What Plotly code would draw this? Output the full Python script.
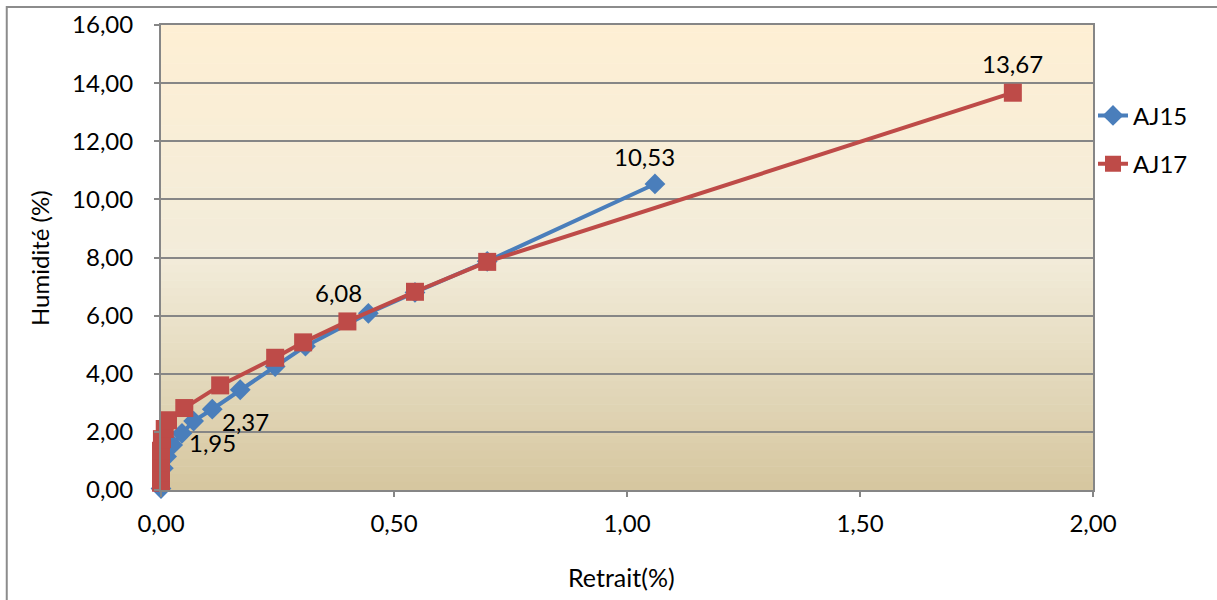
import plotly.graph_objects as go

# ---- data ----
aj15_x = [0.00, 0.005, 0.012, 0.025, 0.045, 0.07, 0.11, 0.17, 0.245, 0.31, 0.445, 0.545, 0.70, 1.06]
aj15_y = [0.05, 0.75, 1.15, 1.55, 1.95, 2.37, 2.78, 3.45, 4.25, 4.95, 6.08, 6.80, 7.87, 10.53]

aj17_x = [0.00, 0.00, 0.00, 0.00, 0.002, 0.008, 0.015, 0.05, 0.127, 0.245, 0.305, 0.40, 0.545, 0.70, 1.828]
aj17_y = [0.25, 0.60, 0.95, 1.35, 1.75, 2.10, 2.40, 2.82, 3.60, 4.55, 5.08, 5.80, 6.82, 7.85, 13.67]

x_ticks = [0, 0.5, 1.0, 1.5, 2.0]
y_ticks = [0, 2, 4, 6, 8, 10, 12, 14, 16]

# labelled points: (x, y, text, xshift, yshift)
labels = [
    (aj15_x[4], aj15_y[4], "1,95", 31, -9),
    (aj15_x[5], aj15_y[5], "2,37", 52, 0),
    (aj15_x[10], aj15_y[10], "6,08", -30, 21),
    (aj15_x[13], aj15_y[13], "10,53", -10, 27),
    (aj17_x[14], aj17_y[14], "13,67", 0, 29),
]

FONT = "Lato"
FS = 24
BLUE = "#4A7EBB"
RED = "#BE4B48"
GRID = "#868686"

fig = go.Figure()
fig.add_trace(go.Scatter(
    x=aj15_x, y=aj15_y, mode="lines+markers", name="AJ15",
    line=dict(color=BLUE, width=4), legendgroup="a",
    marker=dict(symbol="diamond", size=16, color=BLUE), cliponaxis=False,
))
fig.add_trace(go.Scatter(
    x=aj17_x, y=aj17_y, mode="lines+markers", name="AJ17",
    line=dict(color=RED, width=4), legendgroup="b",
    marker=dict(symbol="square", size=18, color=RED), cliponaxis=False,
))

# gradient background via strips
def lerp(c1, c2, t):
    return tuple(round(a + (b - a) * t) for a, b in zip(c1, c2))

top = (254, 239, 212)
mid = (242, 236, 218)
bot = (214, 199, 160)
n = 60
shapes = []
for i in range(n):
    t = i / (n - 1)
    if t < 0.5:
        c = lerp(top, mid, t / 0.5)
    else:
        c = lerp(mid, bot, (t - 0.5) / 0.5)
    y1 = 1 - i / n
    y0 = 1 - (i + 1) / n
    shapes.append(dict(type="rect", xref="x domain", yref="y domain",
                       x0=0, x1=1, y0=y0, y1=y1 + 0.001, line=dict(width=0),
                       fillcolor="rgb(%d,%d,%d)" % c, layer="below"))
# outer chart border
shapes.append(dict(type="rect", xref="paper", yref="paper",
                   x0=-0.1655, x1=1.14, y0=-0.25, y1=1.0387,
                   line=dict(color="#8C8C8C", width=2), fillcolor="rgba(0,0,0,0)",
                   layer="above"))

annotations = []
for (lx, ly, txt, xs, ys) in labels:
    annotations.append(dict(x=lx, y=ly, text=txt, showarrow=False,
                            xshift=xs, yshift=ys,
                            font=dict(family=FONT, size=FS, color="#000000")))
# axis titles
annotations.append(dict(xref="paper", yref="paper", x=-0.1298, y=0.499,
                        text="Humidité (%)", textangle=-90, showarrow=False,
                        xanchor="center", yanchor="middle",
                        font=dict(family=FONT, size=FS, color="#000000")))
annotations.append(dict(xref="paper", yref="paper", x=0.4946, y=-0.187,
                        text="Retrait(%)", showarrow=False,
                        xanchor="center", yanchor="middle",
                        font=dict(family=FONT, size=FS + 1, color="#000000")))

fig.update_layout(
    width=1217, height=600,
    margin=dict(l=161, r=124, t=25, b=110, autoexpand=False),
    paper_bgcolor="white",
    plot_bgcolor="rgba(0,0,0,0)",
    separators=", ",
    shapes=shapes,
    annotations=annotations,
    font=dict(family=FONT, size=FS, color="#000000"),
    legend=dict(x=1.0, y=0.753, xanchor="left", yanchor="middle",
                font=dict(family=FONT, size=FS), bgcolor="rgba(0,0,0,0)",
                tracegroupgap=14, itemwidth=30),
    showlegend=True,
)
fig.update_xaxes(
    range=[0, 2], tickvals=x_ticks, tickformat=".2f", automargin=False,
    showgrid=False, zeroline=False,
    showline=True, linecolor=GRID, linewidth=2, mirror=True,
    ticks="outside", ticklen=5, tickcolor=GRID, tickwidth=2,
    ticklabelstandoff=6,
    tickfont=dict(family=FONT, size=FS),
)
fig.update_yaxes(
    range=[0, 16], tickvals=y_ticks, tickformat=".2f", automargin=False,
    showgrid=True, gridcolor=GRID, gridwidth=2, zeroline=False,
    showline=True, linecolor=GRID, linewidth=2, mirror=True,
    ticks="outside", ticklen=5, tickcolor=GRID, tickwidth=2,
    ticklabelstandoff=16,
    tickfont=dict(family=FONT, size=FS),
)

fig.write_html("out.html",
               config={"displayModeBar": False},
               post_script="document.body.style.margin='0';document.body.style.overflow='hidden';")
